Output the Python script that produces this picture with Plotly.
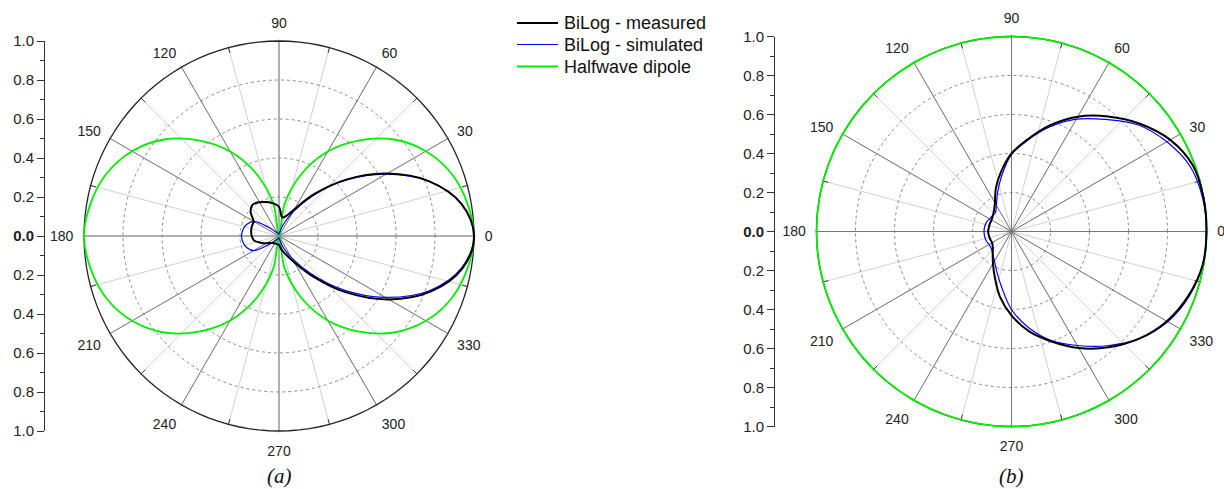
import plotly.graph_objects as go

# Angles (degrees) at which the radiation patterns are sampled
angles_deg = [0, 10, 20, 30, 40, 50, 60, 70, 80, 90, 100, 110, 120, 130, 140, 150, 160, 170,
              180, 190, 200, 210, 220, 230, 240, 250, 260, 270, 280, 290, 300, 310, 320, 330,
              340, 350, 360]

# (a) normalised patterns
measured_a = [1.00, 0.95, 0.82, 0.64, 0.45, 0.28, 0.16, 0.11, 0.097, 0.15, 0.17, 0.185, 0.20,
              0.21, 0.19, 0.15, 0.148, 0.145, 0.14, 0.13, 0.10, 0.075, 0.055, 0.047, 0.044,
              0.042, 0.043, 0.046, 0.07, 0.10, 0.155, 0.27, 0.45, 0.65, 0.83, 0.955, 1.00]
simulated_a = [1.00, 0.95, 0.82, 0.635, 0.445, 0.27, 0.14, 0.06, 0.02, 0.01, 0.01, 0.015, 0.02,
               0.03, 0.07, 0.15, 0.175, 0.188, 0.192, 0.188, 0.175, 0.15, 0.07, 0.03, 0.02,
               0.015, 0.01, 0.01, 0.02, 0.06, 0.13, 0.25, 0.43, 0.63, 0.82, 0.95, 1.00]
dipole_a = [1.00, 0.98, 0.94, 0.87, 0.77, 0.64, 0.50, 0.34, 0.17, 0.00, 0.17, 0.34, 0.50,
            0.64, 0.77, 0.87, 0.94, 0.98, 1.00, 0.98, 0.94, 0.87, 0.77, 0.64, 0.50, 0.34,
            0.17, 0.00, 0.17, 0.34, 0.50, 0.64, 0.77, 0.87, 0.94, 0.98, 1.00]

# (b) normalised patterns
measured_b = [1.00, 1.00, 0.99, 0.94, 0.86, 0.77, 0.68, 0.58, 0.48, 0.40, 0.31, 0.235, 0.17,
              0.14, 0.125, 0.118, 0.118, 0.118, 0.12, 0.118, 0.116, 0.115, 0.125, 0.15, 0.19,
              0.25, 0.34, 0.43, 0.52, 0.60, 0.69, 0.775, 0.855, 0.92, 0.965, 0.995, 1.00]
simulated_b = [1.00, 0.995, 0.975, 0.92, 0.85, 0.75, 0.665, 0.57, 0.475, 0.395, 0.29, 0.21,
               0.155, 0.128, 0.127, 0.13, 0.137, 0.14, 0.141, 0.14, 0.138, 0.133, 0.135, 0.15,
               0.175, 0.22, 0.29, 0.40, 0.50, 0.595, 0.675, 0.765, 0.855, 0.925, 0.97, 0.995,
               1.00]
dipole_b = [1.00, 1.00, 1.00, 1.00, 1.00, 1.00, 1.00, 1.00, 1.00, 1.00, 1.00, 1.00, 1.00,
            1.00, 1.00, 1.00, 1.00, 1.00, 1.00, 1.00, 1.00, 1.00, 1.00, 1.00, 1.00, 1.00,
            1.00, 1.00, 1.00, 1.00, 1.00, 1.00, 1.00, 1.00, 1.00, 1.00, 1.00]

# Axis labelling
angle_ticks = list(range(0, 360, 15))
angle_text = [str(a) if a % 30 == 0 else "" for a in angle_ticks]
side_tickvals = [-1.0, -0.8, -0.6, -0.4, -0.2, 0.0, 0.2, 0.4, 0.6, 0.8, 1.0]
side_ticktext = ["1.0", "0.8", "0.6", "0.4", "0.2", "<b>0.0</b>", "0.2", "0.4", "0.6", "0.8", "1.0"]
captions = ["(a)", "(b)"]
series_names = ["BiLog - measured", "BiLog - simulated", "Halfwave dipole"]

W, H = 1224, 489
FONT = "Liberation Sans, Arial, sans-serif"
BLACK, BLUE, GREEN = "#000000", "#0000ff", "#00ee00"
series_colors = [BLACK, BLUE, GREEN]
series_widths = [2, 1.2, 1.8]

# Radial range is padded a little so lines lying on r = 1 are not clipped
R_MAX = 1.012

# Geometry of the two polar panels: centre (px) and radius of r = 1 (px)
panels = [dict(cx=279, cy=236, R=195, axis_x=45),
          dict(cx=1011.5, cy=231.5, R=195, axis_x=775)]

rim_theta = list(range(0, 361, 3))

fig = go.Figure()

for i, (meas, sim, dip) in enumerate([(measured_a, simulated_a, dipole_a),
                                      (measured_b, simulated_b, dipole_b)]):
    sub = "polar" if i == 0 else "polar2"
    # darker spokes every 30 degrees
    for a in range(0, 180, 30):
        fig.add_trace(go.Scatterpolar(r=[1, 0, 1], theta=[a, a, a + 180], mode="lines",
                                      line=dict(color="#777777", width=1), subplot=sub,
                                      showlegend=False, hoverinfo="skip"))
    # short inner ticks on the rim between the labelled spokes
    tick_r, tick_t = [], []
    for a in range(15, 360, 30):
        tick_r += [0.972, 1.0, None]
        tick_t += [a, a, None]
    fig.add_trace(go.Scatterpolar(r=tick_r, theta=tick_t, mode="lines", subplot=sub,
                                  line=dict(color="#333333", width=1),
                                  showlegend=False, hoverinfo="skip"))
    # outer rim at r = 1
    fig.add_trace(go.Scatterpolar(r=[1.0] * len(rim_theta), theta=rim_theta, mode="lines",
                                  subplot=sub, line=dict(color="#222222", width=1.3),
                                  showlegend=False, hoverinfo="skip"))
    for vals, k in [(dip, 2), (sim, 1), (meas, 0)]:
        fig.add_trace(go.Scatterpolar(r=vals, theta=angles_deg, mode="lines", subplot=sub,
                                      name=series_names[k], showlegend=False,
                                      line=dict(color=series_colors[k], width=series_widths[k],
                                                shape="spline")))

polar_common = dict(
    bgcolor="rgba(0,0,0,0)",
    radialaxis=dict(range=[0, R_MAX], tickvals=[0.2, 0.4, 0.6, 0.8], showticklabels=False,
                    ticks="", showline=False, gridcolor="#8a8a8a", griddash="dot",
                    gridwidth=1),
    angularaxis=dict(rotation=0, direction="counterclockwise", tickmode="array",
                     tickvals=angle_ticks, ticktext=angle_text, ticks="outside", ticklen=5,
                     tickcolor="rgba(0,0,0,0)", gridcolor="#d2d2d2", gridwidth=1,
                     showline=False, layer="below traces",
                     tickfont=dict(family=FONT, size=14, color="#222222")),
)

layout = dict(template="none", width=W, height=H, autosize=False,
              margin=dict(l=0, r=0, t=0, b=0, pad=0),
              paper_bgcolor="white", plot_bgcolor="rgba(0,0,0,0)",
              font=dict(family=FONT, color="#222222"), showlegend=False,
              annotations=[], shapes=[])

for i, p in enumerate(panels):
    Rd = p["R"] * R_MAX
    dom_x = [(p["cx"] - Rd) / W, (p["cx"] + Rd) / W]
    dom_y = [(H - p["cy"] - Rd) / H, (H - p["cy"] + Rd) / H]
    key = "polar" if i == 0 else "polar2"
    layout[key] = dict(domain=dict(x=dom_x, y=dom_y), **polar_common)
    # vertical scale beside each panel, spanning r = 1 above and below the centre
    ax_dom = [(H - p["cy"] - p["R"]) / H, (H - p["cy"] + p["R"]) / H]
    xk = "xaxis" if i == 0 else "xaxis2"
    yk = "yaxis" if i == 0 else "yaxis2"
    layout[xk] = dict(domain=[p["axis_x"] / W, (p["axis_x"] + 10) / W], visible=False,
                      range=[0, 1], fixedrange=True, automargin=False)
    layout[yk] = dict(domain=ax_dom, anchor="x" if i == 0 else "x2", range=[-1, 1],
                      tickvals=side_tickvals, ticktext=side_ticktext, ticks="outside",
                      ticklen=7, tickwidth=1, tickcolor="#333333", showline=True,
                      linecolor="#333333", linewidth=1, showgrid=False, zeroline=False,
                      automargin=False,
                      tickfont=dict(family=FONT, size=15, color="#222222"),
                      minor=dict(dtick=0.1, ticks="outside", ticklen=4, tickcolor="#333333",
                                 showgrid=False),
                      fixedrange=True)
    fig.add_trace(go.Scatter(x=[], y=[], xaxis="x" if i == 0 else "x2",
                             yaxis="y" if i == 0 else "y2", showlegend=False))
    layout["annotations"].append(dict(text="<i>" + captions[i] + "</i>", xref="paper",
                                      yref="paper", x=p["cx"] / W, y=(H - 476) / H,
                                      xanchor="center", yanchor="middle", showarrow=False,
                                      font=dict(family="Liberation Serif, Times New Roman, serif",
                                                size=21, color="#111111")))

# Legend drawn as line samples with labels
legend_rows_px = [23, 44.5, 66.5]
for k, row in enumerate(legend_rows_px):
    yy = (H - row) / H
    layout["shapes"].append(dict(type="line", xref="paper", yref="paper",
                                 x0=517 / W, x1=558 / W, y0=yy, y1=yy,
                                 line=dict(color=series_colors[k], width=series_widths[k])))
    layout["annotations"].append(dict(text=series_names[k], xref="paper", yref="paper",
                                      x=562 / W, y=yy, xanchor="left", yanchor="middle",
                                      showarrow=False,
                                      font=dict(family=FONT, size=18, color="#111111")))

fig.update_layout(**layout)
fig.write_html("out.html")
